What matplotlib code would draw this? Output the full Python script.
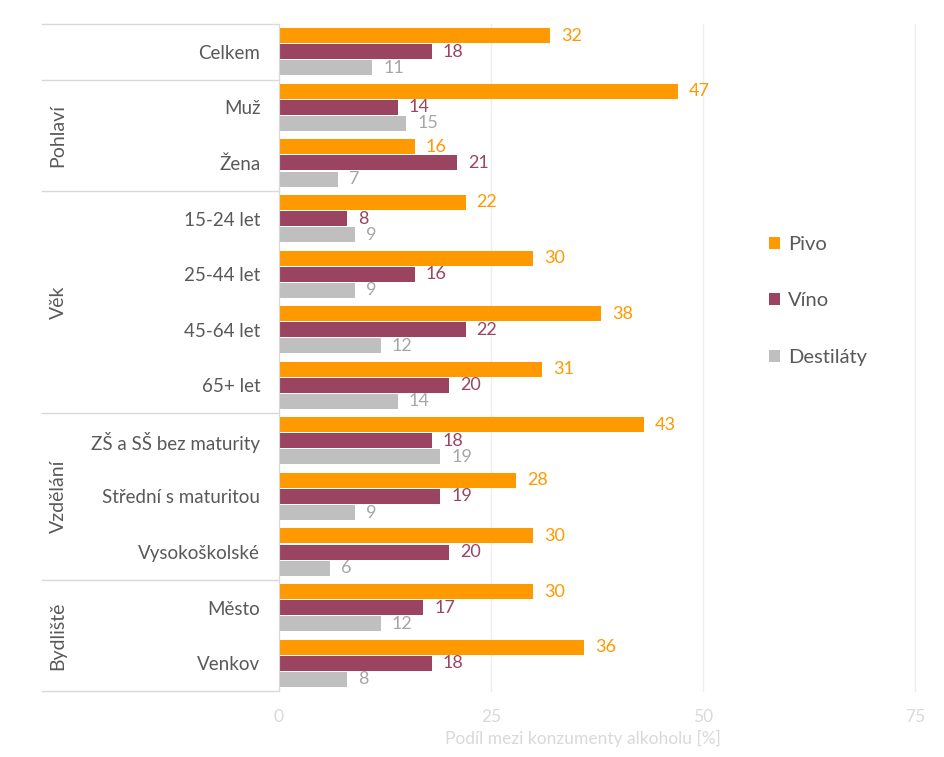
import matplotlib
matplotlib.use("Agg")
import matplotlib.pyplot as plt
import matplotlib.transforms as mtransforms
import numpy as np

categories = ["Celkem", "Muž", "Žena", "15-24 let", "25-44 let", "45-64 let", "65+ let",
              "ZŠ a SŠ bez maturity", "Střední s maturitou", "Vysokoškolské", "Město", "Venkov"]
pivo = [32, 47, 16, 22, 30, 38, 31, 43, 28, 30, 30, 36]
vino = [18, 14, 21, 8, 16, 22, 20, 18, 19, 20, 17, 18]
destilaty = [11, 15, 7, 9, 9, 12, 14, 19, 9, 6, 12, 8]
series_names = ["Pivo", "Víno", "Destiláty"]
groups = [("Pohlaví", 1, 2), ("Věk", 3, 6), ("Vzdělání", 7, 9), ("Bydliště", 10, 11)]
xticks = [0, 25, 50, 75]
xlabel = "Podíl mezi konzumenty alkoholu [%]"

colors = ["#FF9900", "#9B4461", "#BFBFBF"]
label_colors = ["#FF9900", "#9B4461", "#A6A6A6"]
line_col = "#D9D9D9"

plt.rcParams['font.family'] = ['Lato', 'DejaVu Sans']

fig = plt.figure(figsize=(9.45, 7.57), dpi=100)
ax = fig.add_axes([279/945, 1-691/757, 636/945, 667/757])

y = np.arange(len(categories))
offsets = [-0.29, 0.0, 0.29]
h = 0.27
for vals, off, c, lc, name in zip([pivo, vino, destilaty], offsets, colors, label_colors, series_names):
    bars = ax.barh(y + off, vals, height=h, color=c, label=name, zorder=3)
    for b, v in zip(bars, vals):
        ax.annotate(str(v), (v, b.get_y() + b.get_height()/2), xytext=(8, 0),
                    textcoords="offset points", va="center", ha="left",
                    color=lc, fontsize=13)

ax.set_xlim(0, 75)
ax.set_ylim(len(categories) - 0.5, -0.5)
ax.set_xticks(xticks)
ax.set_xticklabels([str(t) for t in xticks])
ax.tick_params(axis='x', length=0, colors="#D9D9D9", labelsize=12.5, pad=13)
ax.set_yticks(y)
ax.set_yticklabels(categories)
ax.tick_params(axis='y', length=0, colors="#595959", labelsize=13.5, pad=13.5)
ax.set_xlabel(xlabel, color="#D9D9D9", fontsize=12.5, va="center")
ax.xaxis.set_label_coords((583 - 279) / 636, (691 - 738) / 667)
ax.grid(axis='x', color="#EEEEEE", linewidth=1, zorder=0)
for gl in ax.get_xgridlines():
    gl.set_clip_on(False)
for s in ["top", "right", "bottom"]:
    ax.spines[s].set_visible(False)
ax.spines["left"].set_color(line_col)
ax.spines["left"].set_zorder(4)

trans = mtransforms.blended_transform_factory(ax.transAxes, ax.transData)
x0 = (42 - 279) / 636
for yb in [-0.5, 0.5, 2.5, 6.5, 9.5, 11.5]:
    ax.plot([x0, 0], [yb, yb], color=line_col, lw=1, transform=trans, clip_on=False)
gx = (58 - 279) / 636
for name, a, b in groups:
    ax.text(gx, (a + b) / 2, name, rotation=90, ha="center", va="center",
            color="#595959", fontsize=14, transform=trans)

handles, labels = ax.get_legend_handles_labels()
leg = fig.legend(handles, labels, loc="center left", bbox_to_anchor=(751/945, 1-301/757),
                 frameon=False, fontsize=14.5, handlelength=0.55, handleheight=0.55,
                 labelspacing=1.95, handletextpad=0.4)
for t in leg.get_texts():
    t.set_color("#595959")

fig.savefig("out.png", dpi=100)
